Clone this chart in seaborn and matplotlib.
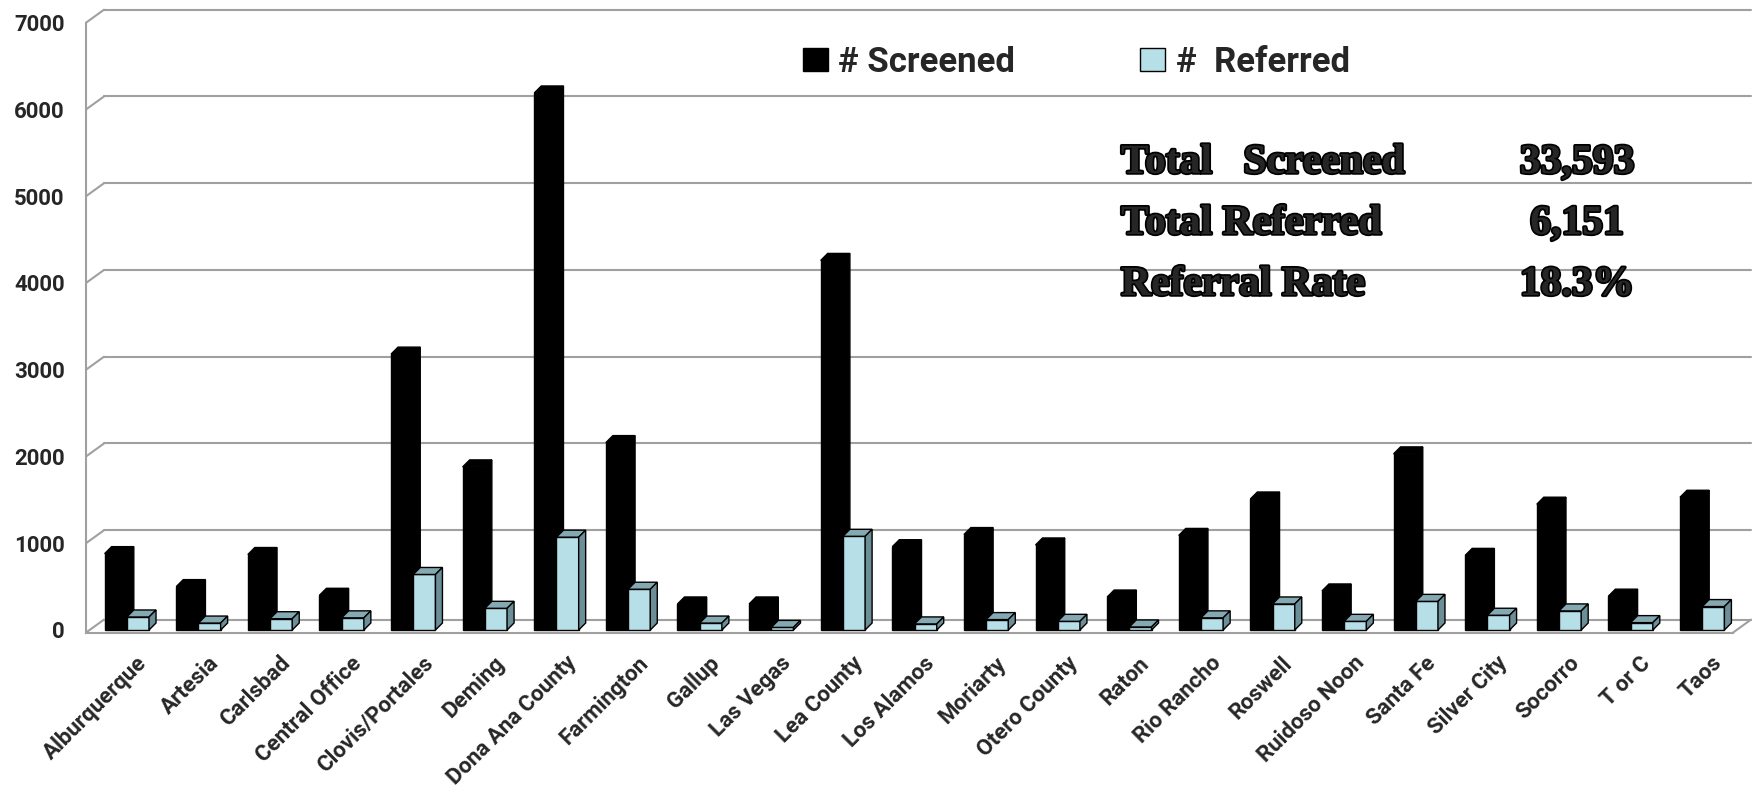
import numpy as np
import pandas as pd
import seaborn as sns
import matplotlib.pyplot as plt
import matplotlib.transforms as mtransforms
import matplotlib.patheffects as pe
from matplotlib.patches import Polygon
from matplotlib.lines import Line2D

sns.set_style("white")
plt.rcParams['font.family'] = ['Roboto', 'DejaVu Sans']

sites = ["Alburquerque", "Artesia", "Carlsbad", "Central Office", "Clovis/Portales",
         "Deming", "Dona Ana County", "Farmington", "Gallup", "Las Vegas",
         "Lea County", "Los Alamos", "Moriarty", "Otero County", "Raton",
         "Rio Rancho", "Roswell", "Ruidoso Noon", "Santa Fe", "Silver City",
         "Socorro", "T or C", "Taos"]
screened = [880, 500, 870, 400, 3180, 1880, 6190, 2160, 300, 300, 4260, 960,
            1100, 980, 380, 1090, 1510, 450, 2030, 860, 1450, 390, 1530]
referred = [150, 80, 130, 140, 640, 250, 1070, 470, 80, 30, 1080, 70,
            120, 100, 35, 140, 300, 100, 330, 170, 220, 85, 270]
series_names = ["# Screened", "#  Referred"]
yticks = [0, 1000, 2000, 3000, 4000, 5000, 6000, 7000]
summary_labels = ["Total   Screened", "Total Referred", "Referral Rate"]
summary_values = ["33,593", "6,151", "18.3%"]

W, H = 1756, 799
grid_col = "#a0a0a0"
dx, dy = 18, 13  # depth of the back wall, in pixels

fig = plt.figure(figsize=(W / 100, H / 100), dpi=100)
ax = fig.add_axes([86 / W, 1 - 632.6 / H, 1647 / W, (632.6 - 22.7) / H])

n = len(sites)
x_lo, x_hi = -0.57, n - 0.57
df = pd.DataFrame({
    "Site": sites * 2,
    "Count": screened + referred,
    "Series": [series_names[0]] * n + [series_names[1]] * n,
})

sns.barplot(data=df, x="Site", y="Count", hue="Series",
            palette=["black", "#b7dfe8"], saturation=1, width=0.62,
            edgecolor="black", linewidth=1, ax=ax, zorder=2)

ax.set_xlim(x_lo, x_hi)
ax.set_ylim(-30, 7000)
ax.set_yticks(yticks)
ax.set_xlabel("")
ax.set_ylabel("")

for s in ["top", "right"]:
    ax.spines[s].set_visible(False)
for s in ["left", "bottom"]:
    ax.spines[s].set_color(grid_col)
    ax.spines[s].set_linewidth(1.5)

ax.tick_params(axis="y", length=4.3, width=1.5, color=grid_col, pad=11, labelsize=16)
for t in ax.get_yticklabels():
    t.set_fontweight("bold")

ax.set_xticks(range(n))
ax.set_xticklabels(sites, rotation=45, ha="right", rotation_mode="anchor",
                   fontsize=16, fontweight="bold")
ax.tick_params(axis="x", which="major", length=0, pad=14)
ax.set_xticks(x_lo + np.arange(n + 1), minor=True)
ax.tick_params(axis="x", which="minor", length=4.3, width=1.5, color=grid_col,
               direction="out")
shift = mtransforms.ScaledTranslation(9 / 100, 0, fig.dpi_scale_trans)
for lab in ax.get_xticklabels():
    lab.set_transform(lab.get_transform() + shift)

# back wall gridlines + floor
ident = mtransforms.IdentityTransform()
back = mtransforms.offset_copy(ax.transData, fig=fig, x=dx, y=dy, units="dots")
for v in yticks[1:] + [-30]:
    ax.plot([x_lo, x_hi], [v, v], transform=back, color=grid_col, lw=1.5,
            clip_on=False, zorder=0.5)
    p0 = ax.transData.transform((x_lo, v))
    fig.add_artist(Line2D([p0[0], p0[0] + dx], [p0[1], p0[1] + dy],
                          transform=ident, color=grid_col, lw=1.5))
p0 = ax.transData.transform((x_hi, -30))
fig.add_artist(Line2D([p0[0], p0[0] + dx], [p0[1], p0[1] + dy],
                      transform=ident, color=grid_col, lw=1.5))

# fake 3D faces on every bar
d = np.array([7, 7])
styles = [("black", "black", 2), ("#85a9b3", "#6b8e97", 3)]
for cont, (top_c, side_c, z) in zip(ax.containers, styles):
    for rect in cont:
        rect.set_zorder(z)
        x0 = rect.get_x()
        w = rect.get_width()
        h = rect.get_height()
        a = ax.transData.transform((x0, h))
        b = ax.transData.transform((x0 + w, h))
        c = ax.transData.transform((x0 + w, 0))
        top = Polygon([a, b, b + d, a + d], closed=True, transform=ident,
                      facecolor=top_c, edgecolor="black", lw=1, zorder=z, clip_on=False)
        side = Polygon([b, c, c + d, b + d], closed=True, transform=ident,
                       facecolor=side_c, edgecolor="black", lw=1, zorder=z, clip_on=False)
        ax.add_patch(top)
        ax.add_patch(side)

ax.set_xlim(x_lo, x_hi)
ax.set_ylim(-30, 7000)

sns.move_legend(ax, "center left", bbox_to_anchor=(803 / W, 1 - 62 / H),
                bbox_transform=fig.transFigure, ncol=2, title=None, frameon=False,
                prop=dict(family="Roboto", weight="bold", size=25),
                handlelength=0.72, handleheight=0.66, handletextpad=0.3,
                columnspacing=3.6, borderpad=0, borderaxespad=0)

rows_y = [163, 224, 285]
for lab, val, yy in zip(summary_labels, summary_values, rows_y):
    fig.text(1121 / W, 1 - yy / H, lab, ha="left", va="center", fontsize=30,
             fontweight="bold", family="Liberation Serif",
             path_effects=[pe.withStroke(linewidth=2.5, foreground="black")])
    fig.text(1577 / W, 1 - yy / H, val, ha="center", va="center", fontsize=30,
             fontweight="bold", family="Liberation Serif",
             path_effects=[pe.withStroke(linewidth=2.5, foreground="black")])

fig.savefig("out.png", dpi=100)
